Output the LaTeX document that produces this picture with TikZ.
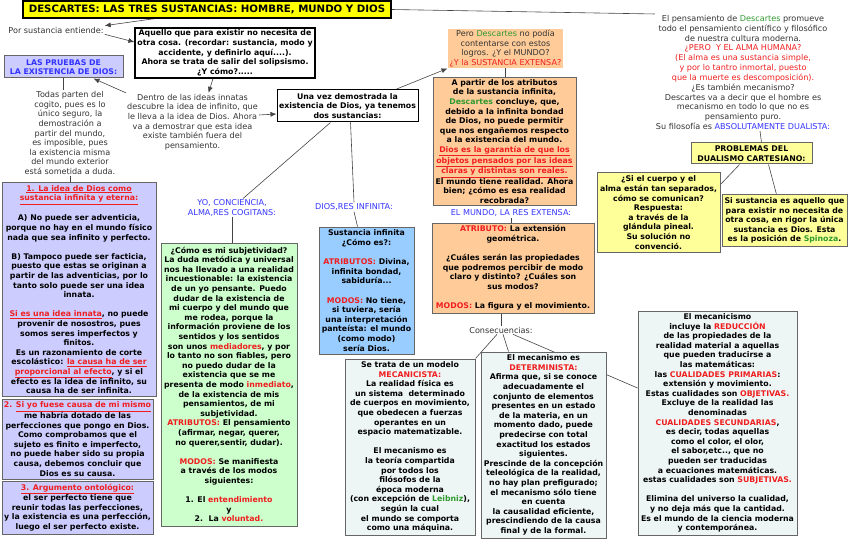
\documentclass[tikz,border=0pt]{standalone}
\usepackage{fontspec}
\setmainfont{DejaVu Sans}
\usetikzlibrary{arrows.meta,backgrounds}

\definecolor{rojo}{HTML}{F01E1E}
\definecolor{verde}{HTML}{2E9A2E}
\definecolor{azul}{HTML}{3333FF}
\definecolor{gris}{HTML}{333333}
\definecolor{borde}{HTML}{666666}
\definecolor{linea}{HTML}{444444}
\definecolor{lila}{HTML}{CCCCFF}
\definecolor{naranja}{HTML}{FFCC99}
\definecolor{celeste}{HTML}{99CCFF}
\definecolor{verdeclaro}{HTML}{CCFFCC}
\definecolor{amarillo}{HTML}{FFFF99}
\definecolor{amarillofuerte}{HTML}{FFFF00}
\definecolor{grisclaro}{HTML}{EEF5F5}

\newcommand{\fs}{\fontsize{7.8}{9.6}\selectfont}
\newcommand{\fr}{\fontsize{8.1}{9.6}\selectfont}
\newcommand{\titulo}{\fontsize{10.2}{12}\selectfont\bfseries}
\newcommand{\rj}[1]{\textcolor{rojo}{#1}}
\newcommand{\vd}[1]{\textcolor{verde}{#1}}
\newcommand{\az}[1]{\textcolor{azul}{#1}}
\newcommand{\rs}[1]{\textcolor{rojo}{\underline{#1}}}

\tikzset{
  caja/.style={draw=borde, line width=1pt, align=center, inner sep=1pt, font=\fs\bfseries, text=black},
  texto/.style={align=center, inner sep=1pt, font=\fr, text=gris},
  etiqueta/.style={texto, text=azul},
  linea/.style={draw=linea, line width=0.6pt},
  flecha/.style={linea, -{Latex[length=6pt,width=5pt]}}
}

\begin{document}
\begin{tikzpicture}[x=1pt,y=-1pt]
\useasboundingbox (0,0) rectangle (848,540);

% titulo y definicion
\node[caja, fill=amarillofuerte, draw=black, line width=1.2pt, font=\titulo, minimum width=368, minimum height=17] (titulo) at (207,9.5) {DESCARTES: LAS TRES SUSTANCIAS: HOMBRE, MUNDO Y DIOS};
\node[texto] (por) at (56,30) {Por sustancia entiende:};
\node[caja, fill=white, draw=black, line width=1.2pt, minimum width=180, minimum height=50] (aquello) at (225,53) {Aquello que para existir no necesita de\\otra cosa. (recordar: sustancia, modo y\\accidente, y definirlo aquí....).\\Ahora se trata de salir del solipsismo.\\¿Y cómo?.....};

% pruebas de Dios
\node[caja, fill=lila, text=azul, minimum width=119, minimum height=22] (pruebas) at (63.5,67) {LAS PRUEBAS DE\\LA EXISTENCIA DE DIOS:};
\node[texto] (todas) at (70,133) {Todas parten del\\cogito, pues es lo\\único seguro, la\\demostración a\\partir del mundo,\\es imposible, pues\\la existencia misma\\del mundo exterior\\está sometida a duda.};
\node[texto] (dentro) at (192.5,122) {Dentro de las ideas innatas\\descubre la idea de infinito, que\\le lleva a la idea de Dios. Ahora\\va a demostrar que esta idea\\existe también fuera del\\pensamiento.};
\node[caja, fill=lila, minimum width=154, minimum height=213] (caja1) at (79,289.5) {\rs{1. La idea de Dios como}\\\rs{sustancia infinita y eterna:}\\[9.6pt]A) No puede ser adventicia,\\porque no hay en el mundo físico\\nada que sea infinito y perfecto.\\[9.6pt]B) Tampoco puede ser facticia,\\puesto que estas se originan a\\partir de las adventicias, por lo\\tanto solo puede ser una idea\\innata.\\[9.6pt]\rs{Si es una idea innata}, no puede\\provenir de nosostros, pues\\somos seres imperfectos y\\finitos.\\Es un razonamiento de corte\\escolástico: \rs{la causa ha de ser}\\\rs{proporcional al efecto}, y si el\\efecto es la idea de infinito, su\\causa ha de ser infinita.};
\node[caja, fill=lila, minimum width=151, minimum height=80] (caja2) at (77.5,439) {\rj{2.} \rs{Si yo fuese causa de mi mismo}\\me habría dotado de las\\perfecciones que pongo en Dios.\\Como comprobamos que el\\sujeto es finito e imperfecto,\\no puede haber sido su propia\\causa, debemos concluir que\\Dios es su causa.};
\node[caja, fill=lila, minimum width=151, minimum height=53] (caja3) at (77.5,507.5) {\rs{3. Argumento ontológico:}\\el ser perfecto tiene que\\reunir todas las perfecciones,\\y la existencia es una perfección,\\luego el ser perfecto existe.};

% dos sustancias
\node[caja, fill=white, draw=black, minimum width=141, minimum height=32] (una) at (347.5,106) {Una vez demostrada la\\existencia de Dios, ya tenemos\\dos sustancias:};
\node[etiqueta] (yo) at (232,208) {YO, CONCIENCIA,\\ALMA,RES COGITANS:};
\node[etiqueta] (dios) at (354,207) {DIOS,RES INFINITA:};
\node[caja, fill=verdeclaro, minimum width=136, minimum height=283] (subj) at (229,384.5) {¿Cómo es mi subjetividad?\\La duda metódica y universal\\nos ha llevado a una realidad\\incuestionable: la existencia\\de un yo pensante. Puedo\\dudar de la existencia de\\mi cuerpo y del mundo que\\me rodea, porque la\\información proviene de los\\sentidos y los sentidos\\son unos \rj{mediadores}, y por\\lo tanto no son fiables, pero\\no puedo dudar de la\\existencia que se me\\presenta de modo \rj{inmediato},\\de la existencia de mis\\pensamientos, de mi\\subjetividad.\\\rj{ATRIBUTOS:} El pensamiento\\(afirmar, negar, querer,\\no querer,sentir, dudar).\\[9.6pt]\rj{MODOS:} Se manifiesta\\a través de los modos\\siguientes:\\[9.6pt]1. El \rj{entendimiento}\\y\\2.\ \ La \rj{voluntad.}};
\node[caja, fill=celeste, minimum width=95, minimum height=127] (infinita) at (366.5,290.5) {Sustancia infinita\\¿Cómo es?:\\[9.6pt]\rj{ATRIBUTOS:} Divina,\\infinita bondad,\\sabiduría...\\[9.6pt]\rj{MODOS:} No tiene,\\si tuviera, sería\\una interpretación\\panteísta: el mundo\\(como modo)\\sería Dios.};

% el mundo
\node[caja, draw=none, fill=naranja, font=\fr, text=gris, minimum width=115, minimum height=37] (pero) at (505.5,48.5) {Pero \vd{Descartes} no podía\\contentarse con estos\\logros. ¿Y el MUNDO?\\\rj{¿Y la SUSTANCIA EXTENSA?}};
\node[caja, fill=naranja, minimum width=143, minimum height=127] (apartir) at (504.5,141.5) {A partir de los atributos\\de la sustancia infinita,\\\vd{Descartes} concluye, que,\\debido a la infinita bondad\\de Dios, no puede permitir\\que nos engañemos respecto\\a la existencia del mundo.\\\rs{Dios es la garantía de que los}\\\rs{objetos pensados por las ideas}\\\rs{claras y distintas son reales.}\\El mundo tiene realidad. Ahora\\bien; ¿cómo es esa realidad\\recobrada?};
\node[etiqueta] (mundo) at (511,213) {EL MUNDO, LA RES EXTENSA:};
\node[caja, fill=naranja, minimum width=162, minimum height=90] (atributo) at (513,268) {\rj{ATRIBUTO:} La extensión\\geométrica.\\[9.6pt]¿Cuáles serán las propiedades\\que podremos percibir de modo\\claro y distinto? ¿Cuáles son\\sus modos?\\[9.6pt]\rj{MODOS:} La figura y el movimiento.};
\node[texto] (consec) at (501,330) {Consecuencias:};
\node[caja, fill=grisclaro, minimum width=130, minimum height=176] (mecan) at (410,447) {Se trata de un modelo\\\rj{MECANICISTA:}\\La realidad física es\\un sistema\ \ determinado\\de cuerpos en movimiento,\\que obedecen a fuerzas\\operantes en un\\espacio matematizable.\\[9.6pt]El mecanismo es\\la teoría compartida\\por todos los\\filósofos de la\\época moderna\\(con excepción de \vd{Leibniz}),\\según la cual\\el mundo se comporta\\como una máquina.};
\node[caja, fill=grisclaro, minimum width=125, minimum height=186] (determ) at (543.5,445) {El mecanismo es\\\rj{DETERMINISTA:}\\Afirma que, si se conoce\\adecuadamente el\\conjunto de elementos\\presentes en un estado\\de la materia, en un\\momento dado, puede\\predecirse con total\\exactitud los estados\\siguientes.\\Prescinde de la concepción\\teleológica de la realidad,\\no hay plan prefigurado;\\el mecanismo sólo tiene\\en cuenta\\la causalidad eficiente,\\prescindiendo de la causa\\final y de la formal.};
\node[caja, fill=grisclaro, minimum width=159, minimum height=224] (reduccion) at (717.5,423) {El mecanicismo\\incluye la \rj{REDUCCIÓN}\\de las propiedades de la\\realidad material a aquellas\\que pueden traducirse a\\las matemáticas:\\las \rj{CUALIDADES PRIMARIAS}:\\extensión y movimiento.\\Estas cualidades son \rj{OBJETIVAS.}\\Excluye de la realidad las\\denominadas\\\rj{CUALIDADES SECUNDARIAS},\\es decir, todas aquellas\\como el color, el olor,\\el sabor,etc.., que no\\pueden ser traducidas\\a ecuaciones matemáticas.\\estas cualidades son \rj{SUBJETIVAS.}\\[9.6pt]Elimina del universo la cualidad,\\y no deja más que la cantidad.\\Es el mundo de la ciencia moderna\\y contemporánea.};

% el hombre y el dualismo
\node[texto, font=\fontsize{8.1}{9.85}\selectfont] (pensamiento) at (743,72.5) {El pensamiento de \vd{Descartes} promueve\\todo el pensamiento científico y filosófico\\de nuestra cultura moderna.\\\rj{¿PERO\ \ Y EL ALMA HUMANA?}\\\rj{(El alma es una sustancia simple,}\\\rj{y por lo tantro inmortal, puesto}\\\rj{que la muerte es descomposición).}\\¿Es también mecanismo?\\Descartes va a decir que el hombre es\\mecanismo en todo lo que no es\\pensamiento puro.\\Su filosofía es \az{ABSOLUTAMENTE DUALISTA:}};
\node[caja, fill=amarillo, minimum width=121, minimum height=21] (problemas) at (751.5,153.5) {PROBLEMAS DEL\\DUALISMO CARTESIANO:};
\node[caja, fill=amarillo, minimum width=123, minimum height=79] (cuerpo) at (658.5,212.5) {¿Si el cuerpo y el\\alma están tan separados,\\cómo se comunican?\\Respuesta:\\a través de la\\glándula pineal.\\Su solución no\\convenció.};
\node[caja, fill=amarillo, minimum width=125, minimum height=51] (spinoza) at (784.5,220.5) {Si sustancia es aquello que\\para existir no necesita de\\otra cosa, en rigor la única\\sustancia es Dios. Esta\\es la posición de \vd{Spinoza}.};

% conectores
\begin{scope}[on background layer]
\draw[flecha] ([xshift=-52pt]titulo.south) -- (por.north east);
\draw[linea] (titulo.east) -- (pensamiento.north west);
\draw[flecha] (por.south east) -- ([yshift=11pt]aquello.west);
\draw[flecha] ([xshift=-12pt]aquello.south) -- ([xshift=16pt]dentro.north);
\draw[flecha] (dentro.north west) -- ([xshift=30pt]pruebas.south);
\draw[linea] (pruebas.south) -- (pruebas.south |- todas.north);
\draw[linea] (todas.south) -- (todas.south |- caja1.north);
\draw[flecha] ([yshift=7pt]dentro.east) -- ([yshift=-8pt]una.west);
\draw[flecha] ([xshift=48pt]una.north) -- (pero.south west);
\draw[linea] (pero.south) -- (pero.south |- apartir.north);
\draw[linea] ([xshift=-17pt]una.south) -- ([xshift=11pt]yo.north);
\draw[linea] ([xshift=3pt]una.south) -- (dios.north);
\draw[linea] (yo.south) -- (yo.south |- subj.north);
\draw[linea] (dios.south) -- ([xshift=-9pt]infinita.north);
\draw[linea] (mundo.south) -- (mundo.south |- atributo.north);
\draw[linea] (consec.north |- atributo.south) -- (consec.north);
\draw[linea] ([xshift=-4pt]consec.south) -- (mecan.north east);
\draw[linea] ([xshift=2pt]consec.south) -- ([xshift=-35pt]determ.north);
\draw[linea] ([xshift=12pt]consec.south) -- ([yshift=35pt]reduccion.west);
\draw[linea] ([xshift=17pt]pensamiento.south) -- ([xshift=10pt]problemas.north);
\draw[linea] ([xshift=-12pt]problemas.south) -- ([yshift=-12pt]cuerpo.north east);
\draw[linea] ([xshift=17pt]problemas.south) -- ([xshift=-8pt]spinoza.north);
\end{scope}
\end{tikzpicture}
\end{document}
